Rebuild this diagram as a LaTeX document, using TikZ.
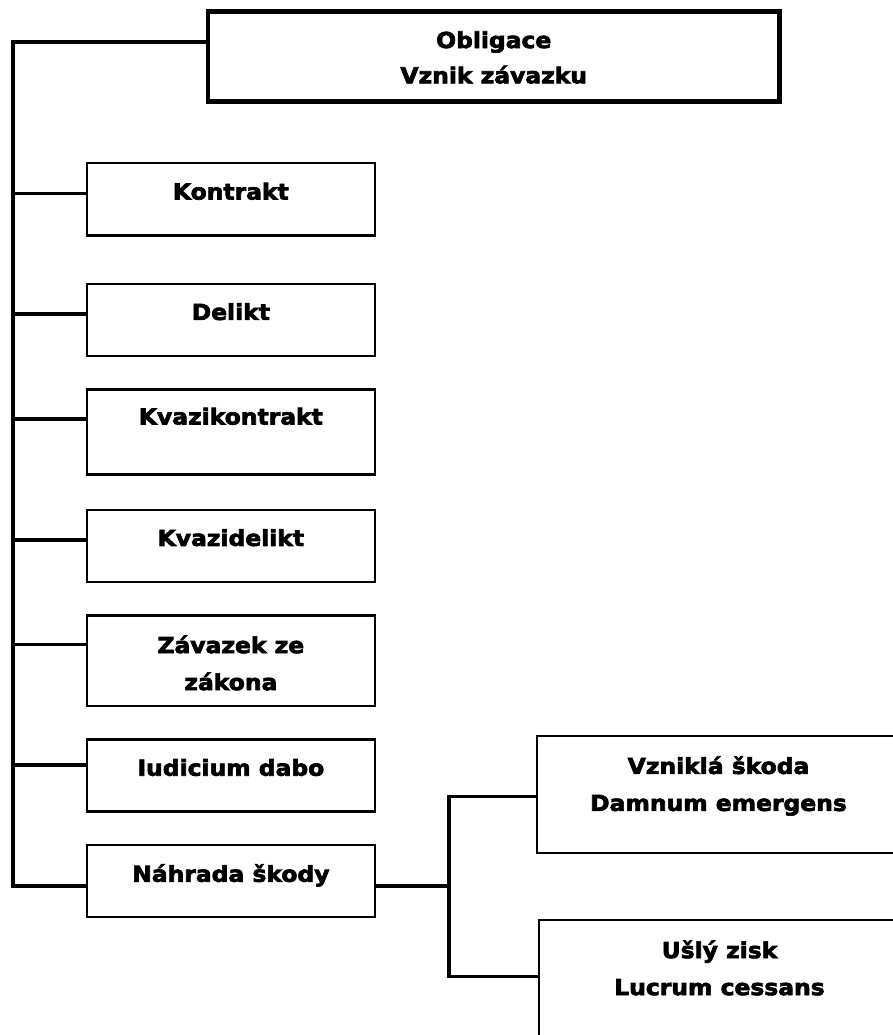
\documentclass[tikz,border=0pt]{standalone}
\usepackage{fontspec}
\setmainfont{DejaVu Sans}[BoldFeatures={FakeBold=3,FakeStretch=1.065}]
\usetikzlibrary{positioning}

\begin{document}
\begin{tikzpicture}[x=1pt,y=-1pt,
        box/.style={draw,line width=2.4pt,anchor=north west,outer sep=0pt,inner sep=0pt,
            minimum width=287.7pt,minimum height=72pt},
        txt/.style={anchor=north,align=center,inner sep=0pt,
            font=\bfseries\fontsize{22}{37}\selectfont},
        link/.style={line width=3.6pt,line join=miter}]
            \useasboundingbox (0,0) rectangle (893,1035);
            \node[box,line width=4.5pt,minimum width=571.5pt,minimum height=90pt] (obligace) at (208,11.3) {};
            \node[box] (kontrakt) at (87,163.3) {};
            \node[box] (delikt) at (87,284.2) {};
            \node[box,minimum height=85pt] (kvazikontrakt) at (87,389.3) {};
            \node[box,minimum height=71.5pt] (kvazidelikt) at (87,510.2) {};
            \node[box,minimum height=90.3pt] (zavazek) at (87,615.5) {};
            \node[box] (iudicium) at (87,739.5) {};
            \node[box] (nahrada) at (87,844.7) {};
            \node[box,minimum width=363pt,minimum height=117pt] (vznikla) at (537,735.8) {};
            \node[box,minimum width=361pt,minimum height=130pt] (usly) at (539,920) {};

            \node[txt,below=19.8pt of obligace.north] (obligace-t) {Obligace\\[-1.7pt]Vznik závazku};
            \foreach \b/\o/\t in {kontrakt/19.3/Kontrakt, delikt/18.8/Delikt,
                kvazikontrakt/18.3/Kvazikontrakt, kvazidelikt/18.8/Kvazidelikt,
                zavazek/19.8/{Závazek ze\\zákona}, iudicium/19.3/Iudicium dabo,
                nahrada/19.3/Náhrada škody, vznikla/20.3/{Vzniklá škoda\\Damnum emergens},
                usly/20.3/{Ušlý zisk\\Lucrum cessans}}{
                \node[txt,below=\o pt of \b.north] (\b-t) {\t};
            }

            \coordinate (spine-top) at (13,42.3);
            \coordinate (spine-bot) at (13,885.7);
            \draw[link] ([yshift=-31pt]obligace.north west) -- (spine-top) -- (spine-bot) -- (spine-bot -| nahrada.west);
            \foreach \b/\s in {kontrakt/30,delikt/29.5,kvazikontrakt/29.7,kvazidelikt/29.8,zavazek/28.8,iudicium/25.5}{
                \coordinate (\b-in) at ([yshift=-\s pt]\b.north west);
                \draw[link] (\b-in) -- (\b-in -| spine-top);
            }

            \coordinate (fork) at (448.7,885.7);
            \coordinate (vznikla-in) at ([yshift=-60.7pt]vznikla.north west);
            \coordinate (usly-in) at ([yshift=-56.3pt]usly.north west);
            \draw[link] ([yshift=-41pt]nahrada.north east) -- (fork);
            \draw[link] (vznikla-in) -| (fork) |- (usly-in);
\end{tikzpicture}
\end{document}
